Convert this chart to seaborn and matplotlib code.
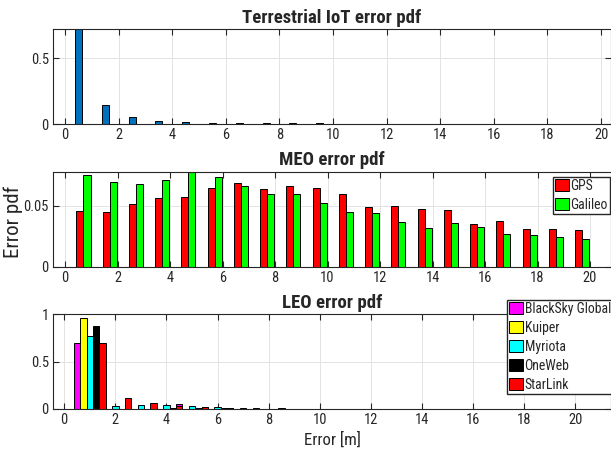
import numpy as np
import pandas as pd
import seaborn as sns
import matplotlib
matplotlib.use("Agg")
import matplotlib.pyplot as plt
from matplotlib import font_manager
from matplotlib.ticker import FuncFormatter

# terrestrial IoT error pdf (bin centres 0.5 .. 19.5)
iot_x = np.arange(20) + 0.5
iot_pdf = [0.75, 0.146, 0.053, 0.028, 0.016, 0.010, 0.008, 0.007, 0.007, 0.006,
           0.005, 0.005, 0.004, 0.004, 0.004, 0.003, 0.003, 0.003, 0.002, 0.002]

# MEO error pdf
meo_x = np.arange(20) + 0.7
gps_pdf = [0.0459, 0.0453, 0.0516, 0.0563, 0.0574, 0.0646, 0.0687, 0.0637, 0.0659, 0.0646,
           0.0596, 0.0492, 0.0497, 0.0473, 0.0464, 0.0354, 0.0376, 0.0308, 0.0308, 0.0299]
galileo_pdf = [0.0755, 0.0692, 0.0676, 0.0712, 0.0790, 0.0736, 0.0665, 0.0599, 0.0596, 0.0527,
               0.0453, 0.0440, 0.0365, 0.0316, 0.0360, 0.0324, 0.0272, 0.0258, 0.0247, 0.0225]

# LEO error pdf (groups at 1 .. 21)
leo_x = np.arange(1, 22)
blacksky_pdf = [0.694, 0.0, 0.030, 0.020, 0.050, 0.020, 0.010, 0.005, 0.004, 0.003, 0.002,
                0.002, 0.001, 0.001, 0.001, 0.001, 0.001, 0.001, 0.001, 0.001, 0.001]
kuiper_pdf = [0.954, 0.004, 0.003, 0.003, 0.002, 0.002, 0.002, 0.001, 0.001, 0.001, 0.001,
              0.001, 0.001, 0.001, 0.001, 0.001, 0.001, 0.001, 0.001, 0.001, 0.001]
myriota_pdf = [0.764, 0.028, 0.039, 0.042, 0.032, 0.021, 0.008, 0.005, 0.004, 0.003, 0.002,
               0.002, 0.001, 0.001, 0.001, 0.001, 0.001, 0.001, 0.001, 0.001, 0.001]
oneweb_pdf = [0.877, 0.005, 0.005, 0.006, 0.008, 0.006, 0.004, 0.003, 0.002, 0.002, 0.001,
              0.001, 0.001, 0.001, 0.001, 0.001, 0.001, 0.001, 0.001, 0.001, 0.001]
starlink_pdf = [0.697, 0.112, 0.060, 0.028, 0.025, 0.014, 0.008, 0.006, 0.004, 0.003, 0.002,
                0.002, 0.001, 0.001, 0.001, 0.001, 0.001, 0.001, 0.001, 0.001, 0.001]

leo_names = ['BlackSky Global', 'Kuiper', 'Myriota', 'OneWeb', 'StarLink']
leo_colors = ['#ff00ff', '#ffff00', '#00ffff', '#000000', '#ff0000']

sns.set_theme(style='white', rc={
    'axes.edgecolor': '#262626', 'axes.linewidth': 0.8,
    'xtick.direction': 'in', 'ytick.direction': 'in',
    'xtick.top': True, 'ytick.right': True,
    'xtick.bottom': True, 'ytick.left': True,
    'xtick.major.size': 4, 'ytick.major.size': 4,
    'xtick.major.width': 0.8, 'ytick.major.width': 0.8,
    'xtick.color': '#262626', 'ytick.color': '#262626',
    'axes.grid': True, 'grid.color': '#e3e3e3', 'grid.linewidth': 0.7,
})

# the reference uses a narrow face; pick the narrowest one we have
installed = {f.name for f in font_manager.fontManager.ttflist}
if 'Liberation Sans Narrow' in installed:
    face, w = 'Liberation Sans Narrow', 0.82
elif 'Roboto Condensed' in installed:
    face, w = 'Roboto Condensed', 0.86
else:
    face, w = 'Liberation Sans', 1.0
plt.rcParams['font.family'] = [face, 'DejaVu Sans']

tick_fs = 9.0 / w
title_fs = 11.6 / w
xlab_fs = 10.4 / w
ylab_fs = 13.0 / w
leg_fs = 8.5 / w

fig = plt.figure(figsize=(6.11, 4.61), dpi=100)
ax1 = fig.add_axes([0.0867, 0.7304, 0.9133, 0.206])
ax2 = fig.add_axes([0.0867, 0.4215, 0.9133, 0.206])
ax3 = fig.add_axes([0.0867, 0.1128, 0.9133, 0.206])

fmt = FuncFormatter(lambda v, p: '%g' % v)
leg_kw = dict(bbox_transform=fig.transFigure, loc='upper left', fontsize=leg_fs,
              frameon=True, fancybox=False, framealpha=1, edgecolor='#262626',
              borderpad=0.15, labelspacing=0.36, handlelength=1.05, handleheight=0.95,
              handletextpad=0.08, borderaxespad=0)

# terrestrial IoT
iot_df = pd.DataFrame({'x': iot_x, 'pdf': iot_pdf})
sns.barplot(data=iot_df, x='x', y='pdf', native_scale=True, width=0.26, color='#0072bd',
            saturation=1, edgecolor='black', linewidth=0.7, errorbar=None, ax=ax1)
ax1.set_xlim(-0.45, 20.37)
ax1.set_ylim(0, 0.72)
ax1.set_yticks([0, 0.5])
ax1.set_title('Terrestrial IoT error pdf', fontsize=title_fs, fontweight='bold', pad=4.5)

# MEO
meo_df = pd.DataFrame({
    'x': np.concatenate([meo_x, meo_x]),
    'pdf': gps_pdf + galileo_pdf,
    'system': ['GPS'] * 20 + ['Galileo'] * 20,
})
sns.barplot(data=meo_df, x='x', y='pdf', hue='system', hue_order=['GPS', 'Galileo'],
            palette={'GPS': '#ff0000', 'Galileo': '#00ff00'}, native_scale=True, width=0.54,
            saturation=1, edgecolor='black', linewidth=0.7, errorbar=None, ax=ax2)
ax2.set_xlim(-0.46, 20.8)
ax2.set_ylim(0, 0.078)
ax2.set_yticks([0, 0.05])
ax2.set_title('MEO error pdf', fontsize=title_fs, fontweight='bold', pad=4.5)
ax2.set_ylabel('Error pdf', fontsize=ylab_fs)
ax2.yaxis.set_label_coords(-0.054, 0.47)
ax2.legend(bbox_to_anchor=(553 / 611, 1 - 177 / 461), **leg_kw)

# LEO
leo_df = pd.DataFrame({
    'x': np.tile(leo_x, 5),
    'pdf': blacksky_pdf + kuiper_pdf + myriota_pdf + oneweb_pdf + starlink_pdf,
    'constellation': np.repeat(leo_names, len(leo_x)),
})
sns.barplot(data=leo_df, x='x', y='pdf', hue='constellation', hue_order=leo_names,
            palette=dict(zip(leo_names, leo_colors)), native_scale=True, width=1.25,
            saturation=1, edgecolor='black', linewidth=0.7, errorbar=None, ax=ax3)
ax3.set_xlim(-0.44, 21.4)
ax3.set_ylim(0, 1)
ax3.set_yticks([0, 0.5, 1])
ax3.set_title('LEO error pdf', fontsize=title_fs, fontweight='bold', pad=4.5)
ax3.set_xlabel('Error [m]', fontsize=xlab_fs, labelpad=3)
ax3.legend(bbox_to_anchor=(507 / 611, 1 - 300 / 461), **leg_kw)

for ax in (ax1, ax2, ax3):
    ax.set_xticks(np.arange(0, 21, 2))
    ax.xaxis.set_major_formatter(fmt)
    ax.yaxis.set_major_formatter(fmt)
    ax.tick_params(labelsize=tick_fs, pad=3)
    ax.grid(True)
    ax.set_axisbelow(True)
    if ax is not ax2:
        ax.set_ylabel('')
    if ax is not ax3:
        ax.set_xlabel('')

fig.savefig('out.png', dpi=100)
